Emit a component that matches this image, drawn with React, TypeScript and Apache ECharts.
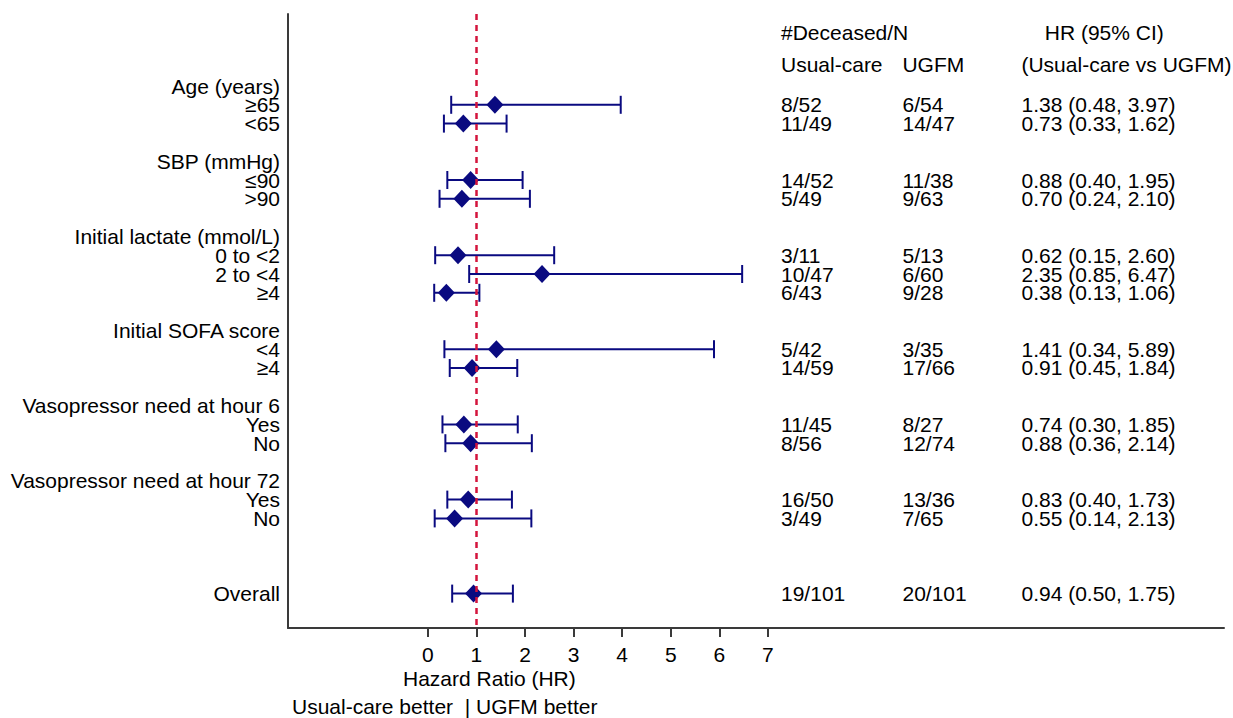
import React, { useEffect, useRef } from "react";
import * as echarts from "echarts";

// Row labels on the left (row index = position from top)
const rowLabels = [
  "Age (years)", "≥65", "<65", "",
  "SBP (mmHg)", "≤90", ">90", "",
  "Initial lactate (mmol/L)", "0 to <2", "2 to <4", "≥4", "",
  "Initial SOFA score", "<4", "≥4", "",
  "Vasopressor need at hour 6", "Yes", "No", "",
  "Vasopressor need at hour 72", "Yes", "No", "",
  "", "", "Overall",
];

// Rows that carry an estimate
const estRows = [1, 2, 5, 6, 9, 10, 11, 14, 15, 18, 19, 22, 23, 27];
const hr = [1.38, 0.73, 0.88, 0.70, 0.62, 2.35, 0.38, 1.41, 0.91, 0.74, 0.88, 0.83, 0.55, 0.94];
const lo = [0.48, 0.33, 0.40, 0.24, 0.15, 0.85, 0.13, 0.34, 0.45, 0.30, 0.36, 0.40, 0.14, 0.50];
const hi = [3.97, 1.62, 1.95, 2.10, 2.60, 6.47, 1.06, 5.89, 1.84, 1.85, 2.14, 1.73, 2.13, 1.75];
const usualCare = ["8/52", "11/49", "14/52", "5/49", "3/11", "10/47", "6/43", "5/42", "14/59", "11/45", "8/56", "16/50", "3/49", "19/101"];
const ugfm = ["6/54", "14/47", "11/38", "9/63", "5/13", "6/60", "9/28", "3/35", "17/66", "8/27", "12/74", "13/36", "7/65", "20/101"];

const xTicks = [0, 1, 2, 3, 4, 5, 6, 7];

const NAVY = "#0a0a80";
const RED = "#d4143c";
const AXIS = "#3a3a3a";
const FONT = "'Liberation Sans', Arial, sans-serif";
const FS = 21;
const LH = 18;

const X_MIN = -2.88;
const X_MAX = 16.39;
// column positions (in HR axis units)
const COL_UC = 7.27;
const COL_UG = 9.77;
const COL_HR = 12.22;
const COL_HRHEAD = 12.7;
const HEAD1_ROW = -2.87;
const HEAD2_ROW = -1.17;

export default function App() {
  const ref = useRef<HTMLDivElement>(null);
  useEffect(() => {
    if (!ref.current) return;
    const chart = echarts.init(ref.current, null, { renderer: "svg" });

    const leftData = rowLabels
      .map((t, i) => [X_MIN, i, t])
      .filter((d) => d[2]);

    const ciData = estRows.map((k, i) => [lo[i], hi[i], k]);
    const ptData = estRows.map((k, i) => [hr[i], k]);
    const hrText = estRows.map(
      (_k, i) => `${hr[i].toFixed(2)} (${lo[i].toFixed(2)}, ${hi[i].toFixed(2)})`
    );

    const textData: any[] = [];
    estRows.forEach((k, i) => {
      textData.push([COL_UC, k, usualCare[i]]);
      textData.push([COL_UG, k, ugfm[i]]);
      textData.push([COL_HR, k, hrText[i]]);
    });
    textData.push([COL_UC, HEAD1_ROW, "#Deceased/N"]);
    textData.push([COL_HRHEAD, HEAD1_ROW, "HR (95% CI)"]);
    textData.push([COL_UC, HEAD2_ROW, "Usual-care"]);
    textData.push([COL_UG, HEAD2_ROW, "UGFM"]);
    textData.push([COL_HR, HEAD2_ROW, "(Usual-care vs UGFM)"]);

    const txt = {
      fontSize: FS,
      fontFamily: FONT,
      color: "#000",
      lineHeight: LH,
    };

    chart.setOption({
      animation: false,
      grid: { left: 288, top: 14, right: 9, bottom: 90 },
      xAxis: {
        type: "value",
        min: X_MIN,
        max: X_MAX,
        axisLine: { show: true, onZero: false, lineStyle: { color: AXIS, width: 2 } },
        axisTick: { show: true, customValues: xTicks, length: 9, lineStyle: { color: AXIS, width: 2 } },
        axisLabel: {
          show: true,
          customValues: xTicks,
          fontSize: FS,
          fontFamily: FONT,
          color: "#000",
          margin: 16,
        },
        splitLine: { show: false },
      },
      yAxis: {
        type: "value",
        inverse: true,
        min: -3.83,
        max: 28.83,
        axisLine: { show: true, onZero: false, lineStyle: { color: AXIS, width: 2 } },
        axisTick: { show: false },
        axisLabel: { show: false },
        splitLine: { show: false },
      },
      graphic: [
        {
          type: "text",
          x: 403,
          y: 678,
          style: { text: "Hazard Ratio (HR)", fontSize: FS, fontFamily: FONT, fill: "#000", align: "left", verticalAlign: "middle" },
        },
        {
          type: "text",
          x: 292,
          y: 706,
          style: {
            text: "Usual-care better\u00a0\u00a0|\u00a0UGFM better",
            fontSize: FS,
            fontFamily: FONT,
            fill: "#000",
            align: "left",
            verticalAlign: "middle",
          },
        },
      ],
      series: [
        {
          type: "custom",
          data: ciData,
          encode: { x: [0, 1], y: 2 },
          z: 3,
          renderItem: (_params: any, api: any) => {
            const a = api.coord([api.value(0), api.value(2)]);
            const b = api.coord([api.value(1), api.value(2)]);
            const h = 9;
            const st = { stroke: NAVY, lineWidth: 2 };
            return {
              type: "group",
              children: [
                { type: "line", shape: { x1: a[0], y1: a[1], x2: b[0], y2: b[1] }, style: st },
                { type: "line", shape: { x1: a[0], y1: a[1] - h, x2: a[0], y2: a[1] + h }, style: st },
                { type: "line", shape: { x1: b[0], y1: b[1] - h, x2: b[0], y2: b[1] + h }, style: st },
              ],
            };
          },
        },
        {
          type: "scatter",
          data: ptData,
          symbol: "diamond",
          symbolSize: [17, 18],
          itemStyle: { color: NAVY, opacity: 1 },
          z: 4,
          markLine: {
            silent: true,
            symbol: ["none", "none"],
            label: { show: false },
            lineStyle: { color: RED, type: [6, 5], width: 2.5 },
            data: [{ xAxis: 1 }],
            z: 5,
          },
        },
        {
          type: "scatter",
          data: textData,
          symbolSize: 0,
          silent: true,
          clip: false,
          itemStyle: { opacity: 1 },
          label: {
            show: true,
            position: [0, 0],
            align: "left",
            verticalAlign: "middle",
            formatter: (p: any) => p.value[2],
            ...txt,
          },
        },
        {
          type: "scatter",
          data: leftData,
          symbolSize: 0,
          silent: true,
          clip: false,
          itemStyle: { opacity: 1 },
          label: {
            show: true,
            position: [-8, 0],
            align: "right",
            verticalAlign: "middle",
            formatter: (p: any) => p.value[2],
            ...txt,
          },
        },
      ],
    });
    return () => chart.dispose();
  }, []);
  return (
    <div
      ref={ref}
      style={{ position: "fixed", left: 0, top: 0, width: 1233, height: 718, background: "#fff" }}
    />
  );
}
